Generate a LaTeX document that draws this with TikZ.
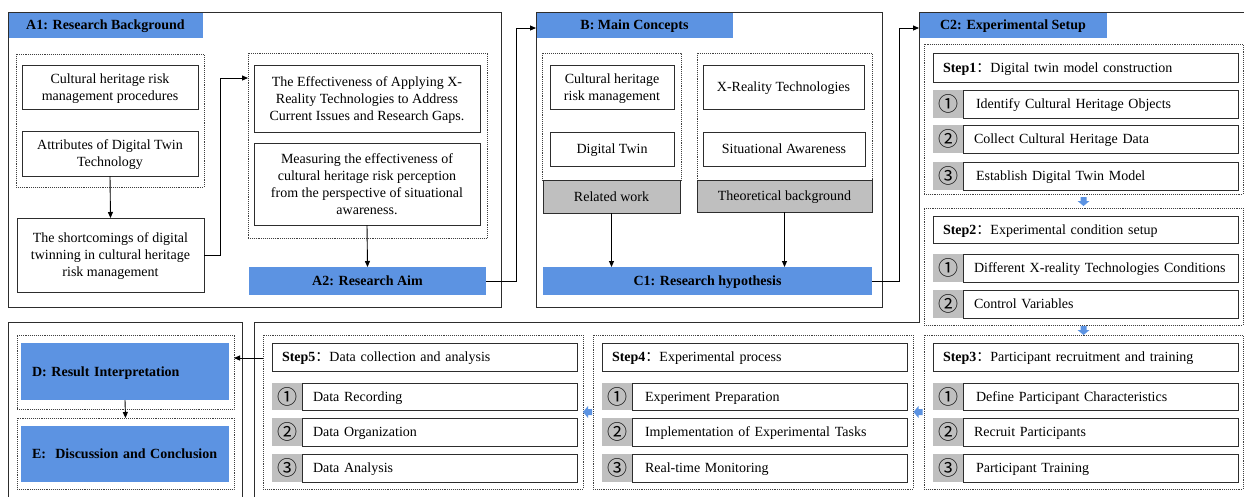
\documentclass[tikz,border=0pt]{standalone}
\usepackage{fontspec}
\setmainfont{Liberation Serif}
\newfontfamily\cjkf{Noto Sans CJK SC}
\newfontfamily\symf{DejaVu Sans}
\usetikzlibrary{arrows.meta,calc}
\definecolor{hblue}{RGB}{92,147,226}
\definecolor{hgray}{RGB}{191,191,191}
\definecolor{lnc}{RGB}{45,45,45}
\newcommand\bx[7][]{\node[inner sep=0pt,outer sep=0pt,minimum width={((#5)-(#3))*1pt},minimum height={((#6)-(#4))*1pt},#1] (#2) at ({((#3)+(#5))/2},{((#4)+(#6))/2}) {#7};}
\newcommand\stepitem[6]{%
  \bx[numbox]{#1n}{#2}{#3}{(#2)+30}{#4}{#5}%
  \bx[itembox]{#1}{(#2)+30}{#3}{(#2)+305}{#4}{\mbox{#6}}}
\newcommand\stephead[6]{\bx[stephd]{#1}{#2}{#3}{(#2)+305}{#4}{\mbox{\textbf{#5}#6}}}
\begin{document}
\begin{tikzpicture}[x=1pt,y=-1pt,
  txt/.style={font=\fontsize{14}{17}\selectfont,text=black,text depth=0pt},
  wbox/.style={txt,draw=lnc,line width=0.9pt,fill=white,align=center},
  gbox/.style={wbox,fill=hgray},
  hbox/.style={txt,fill=hblue,font=\fontsize{14}{17}\selectfont\bfseries},
  hboxl/.style={hbox,align=left,text width=186pt},
  grp/.style={draw=black!75,dash pattern=on 0.8pt off 1.1pt,line width=0.7pt},
  outer/.style={draw=lnc,line width=1pt},
  numbox/.style={fill=hgray,font=\cjkf\fontsize{20}{20}\selectfont},
  itembox/.style={txt,draw=lnc,line width=1pt,fill=white,align=left,text width=253pt},
  stephd/.style={txt,draw=lnc,line width=0.9pt,fill=white,align=left,text width=285pt},
  arr/.style={draw=black,line width=0.9pt,-{Triangle[length=6pt,width=5pt]}},
  barr/.style={fill=hblue}]
\useasboundingbox (0,0) rectangle (1244,496);
\clip (0,0) rectangle (1244,496);
\fill[white] (0,0) rectangle (1244,496);

% ---------- A ----------
\bx[hbox]{A1h}{8}{12}{203}{38}{A1: Research Background}
\bx[outer]{Abox}{8}{12}{501}{307}{}
\bx[grp]{gA1}{16}{54}{204}{187}{}
\bx[wbox]{a1}{22}{65}{198}{109}{Cultural heritage risk\\management procedures}
\bx[wbox]{a2}{22}{131}{198}{176}{Attributes of Digital Twin\\Technology}
\bx[wbox]{a3}{17}{218}{204}{292}{The shortcomings of digital\\twinning in cultural heritage\\risk management}
\bx[grp]{gA2}{248}{53}{487}{238}{}
\bx[wbox]{a4}{254}{65}{480}{132}{The Effectiveness of Applying X-\\Reality Technologies to Address\\Current Issues and Research Gaps.}
\bx[wbox]{a5}{254}{143}{480}{225}{Measuring the effectiveness of\\cultural heritage risk perception\\from the perspective of situational\\awareness.}
\bx[hbox]{A2}{249}{267}{486}{295}{A2: Research Aim}

\draw[arr] (a2.south) -- (a3.north);
\draw[arr] (a3.east) -- ++(16,0) |- ([yshift=-25pt]gA2.north west);
\draw[arr] (a5.south) -- (A2.north);

% ---------- B ----------
\bx[hbox]{Bh}{536}{12}{733}{38}{B: Main Concepts}
\bx[outer]{Bbox}{536}{12}{882}{307}{}
\bx[grp]{gB1}{542}{53}{681}{180}{}
\bx[wbox]{b1}{550}{65}{674}{109}{Cultural heritage\\risk management}
\bx[wbox]{b2}{550}{132}{674}{166}{Digital Twin}
\bx[gbox]{rw}{543}{180}{680}{213}{Related work}
\bx[grp]{gB2}{697}{53}{872}{180}{}
\bx[wbox]{b3}{703}{65}{864}{109}{X-Reality Technologies}
\bx[wbox]{b4}{703}{132}{865}{166}{Situational Awareness}
\bx[gbox]{tb}{697}{180}{872}{212}{Theoretical background}
\bx[hbox]{C1}{543}{267}{872}{295}{C1: Research hypothesis}

\draw[arr] (A2.east) -- ++(30,0) |- ([yshift=-3pt]Bh.west);
\draw[arr] (rw.south) -- (rw.south |- C1.north);
\draw[arr] (tb.south) -- (tb.south |- C1.north);

% ---------- C2 ----------
\bx[hbox]{C2h}{919}{12}{1107}{38}{C2: Experimental Setup}
\coordinate (c2a) at (1260,12);
\coordinate (c2b) at (919,322);
\coordinate (c2c) at (254,322);
\coordinate (c2d) at (254,510);
\draw[outer] (c2a) -- (C2h.north west) -- (c2b) -- (c2c) -- (c2d);
\draw[arr] (C1.east) -- ++(27,0) |- ([yshift=-3pt]C2h.west);

% Step 1
\bx[grp]{g1}{924}{44}{1243}{194}{}
\stephead{h1}{933}{53}{82}{Step1}{{\cjkf ：}Digital twin model construction}
\stepitem{s1a}{933}{90}{118}{①}{\hspace{2pt}Identify Cultural Heritage Objects}
\stepitem{s1b}{933}{125}{153}{②}{Collect Cultural Heritage Data}
\stepitem{s1c}{933}{162}{190}{③}{\hspace{2pt}Establish Digital Twin Model}
% Step 2
\bx[grp]{g2}{924}{208}{1243}{325}{}
\stephead{h2}{933}{216}{243}{Step2}{{\cjkf ：}Experimental condition setup}
\stepitem{s2a}{933}{254}{282}{①}{Different X-reality Technologies Conditions}
\stepitem{s2b}{933}{290}{318}{②}{Control Variables}
% Step 3
\bx[grp]{g3}{924}{335}{1243}{489}{}
\stephead{h3}{933}{343}{371}{Step3}{{\cjkf ：}Participant recruitment and training}
\stepitem{s3a}{933}{383}{410}{①}{\hspace{2pt}Define Participant Characteristics}
\stepitem{s3b}{933}{418}{446}{②}{Recruit Participants}
\stepitem{s3c}{933}{454}{482}{③}{\hspace{2pt}Participant Training}
% Step 4
\bx[grp]{g4}{593}{335}{913}{489}{}
\stephead{h4}{602}{343}{371}{Step4}{{\cjkf ：}Experimental process}
\stepitem{s4a}{602}{383}{410}{①}{\hspace{2pt}Experiment Preparation}
\stepitem{s4b}{602}{418}{446}{②}{\hspace{2pt}Implementation of Experimental Tasks}
\stepitem{s4c}{602}{454}{482}{③}{\hspace{2pt}Real-time Monitoring}
% Step 5
\bx[grp]{g5}{263}{335}{583}{489}{}
\stephead{h5}{272}{343}{371}{Step5}{{\cjkf ：}Data collection and analysis}
\stepitem{s5a}{272}{383}{410}{①}{Data Recording}
\stepitem{s5b}{272}{418}{446}{②}{Data Organization}
\stepitem{s5c}{272}{454}{482}{③}{Data Analysis}

% blue step arrows
\coordinate (m12) at ($(g1.south)!0.5!(g2.north)$);
\coordinate (m23) at ($(g2.south)!0.5!(g3.north)$);
\coordinate (m34) at ($(g3.west)!0.5!(g4.east)$);
\coordinate (m45) at ($(g4.west)!0.5!(g5.east)$);
\foreach \m in {m12,m23}{
  \fill[barr] (\m) +(-3,-4) -- +(3,-4) -- +(3,0) -- +(6,0) -- +(0,5) -- +(-6,0) -- +(-3,0) -- cycle;}
\foreach \m in {m34,m45}{
  \fill[barr] (\m) +(4,-3) -- +(4,3) -- +(0,3) -- +(0,6) -- +(-5,0) -- +(0,-6) -- +(0,-3) -- cycle;}

% ---------- D / E ----------
\coordinate (de1) at (8,510);
\coordinate (de2) at (8,322);
\coordinate (de3) at (242,322);
\coordinate (de4) at (242,510);
\draw[outer] (de1) -- (de2) -- (de3) -- (de4);
\bx[grp]{gD}{17}{335}{234}{409}{}
\bx[hboxl]{D}{21}{343}{229}{400}{D: Result Interpretation}
\bx[grp]{gE}{17}{418}{234}{489}{}
\bx[hboxl]{E}{21}{426}{229}{482}{E:\ \ Discussion and Conclusion}
\draw[arr] (D.south) -- (gE.north);
\coordinate (p5) at ([yshift=-23pt]g5.north west);
\draw[arr] (p5) -- (p5 -| gD.east);
\end{tikzpicture}
\end{document}
